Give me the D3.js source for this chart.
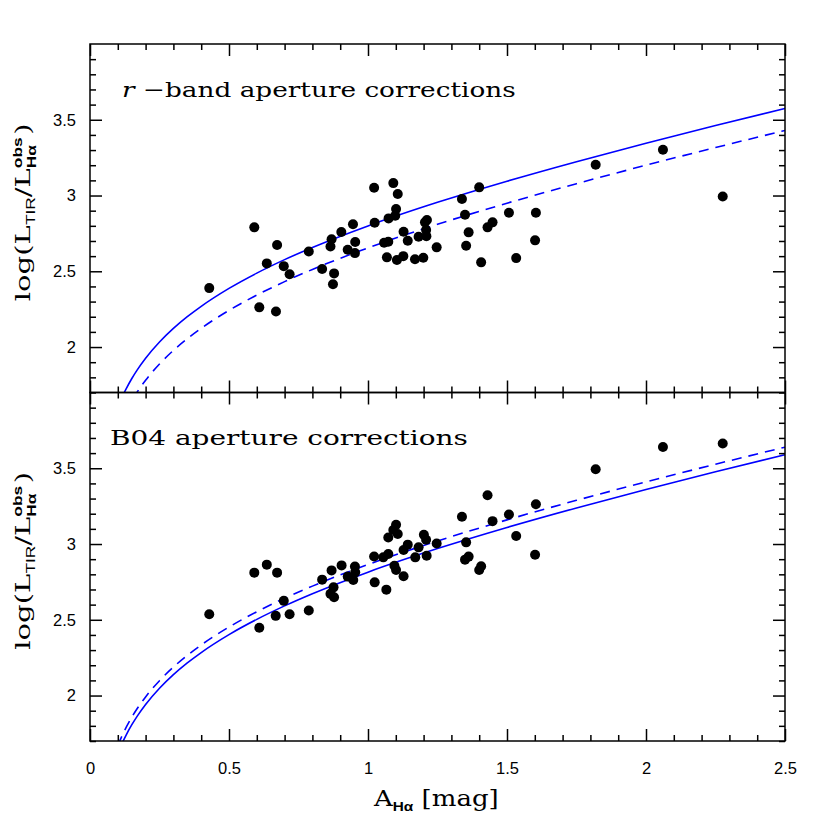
<!DOCTYPE html>
<html><head><meta charset="utf-8">
<script src="https://cdn.jsdelivr.net/npm/d3@7"></script>
<style>body{margin:0;background:#fff}</style>
</head><body>
<svg id="c" width="830" height="830"></svg>
<script>
// ---------- data ----------
const xMajorTicks = [0, 0.5, 1, 1.5, 2, 2.5];
const yMajorTicks = [2, 2.5, 3, 3.5];

// r-band aperture corrections (top panel)
const topA = [0.429,0.591,0.609,0.636,0.673,0.669,0.697,0.718,0.787,0.835,0.878,0.874,0.865,0.869,0.904,0.946,0.927,0.954,0.953,
  1.022,1.091,1.107,1.101,1.024,1.074,1.098,1.205,1.212,1.128,1.143,1.058,1.073,1.182,1.21,1.209,1.247,1.068,1.104,1.127,1.169,1.199,
  1.338,1.40,1.349,1.362,1.353,1.430,1.448,1.407,1.507,1.533,1.604,1.601,1.819,2.061,2.276];
const topLog = [2.389,2.79,2.262,2.552,2.673,2.235,2.534,2.48,2.631,2.515,2.486,2.415,2.664,2.711,2.759,2.81,2.642,2.693,2.62,
  3.051,3.082,3.01,2.911,2.82,2.849,2.866,2.823,2.838,2.761,2.701,2.688,2.695,2.728,2.732,2.772,2.658,2.592,2.574,2.60,2.58,2.589,
  2.977,3.054,2.873,2.757,2.668,2.79,2.823,2.559,2.886,2.587,2.886,2.704,3.203,3.302,2.994];

// B04 aperture corrections (bottom panel)
const botA = [0.429,0.591,0.636,0.673,0.609,0.697,0.668,0.718,0.787,0.835,0.869,0.905,0.876,0.865,0.878,0.953,0.927,0.947,0.954,
  1.022,1.055,1.073,1.101,1.091,1.107,1.073,1.024,1.066,1.095,1.101,1.128,1.128,1.143,1.170,1.182,1.201,1.209,1.211,1.247,
  1.338,1.353,1.349,1.362,1.40,1.407,1.430,1.448,1.507,1.533,1.604,1.601,1.819,2.061,2.276];
const botLog = [2.537,2.811,2.864,2.811,2.447,2.625,2.526,2.537,2.561,2.765,2.826,2.859,2.714,2.671,2.649,2.851,2.785,2.763,2.813,
  2.918,2.912,2.934,3.127,3.092,3.066,3.043,2.747,2.699,2.857,2.829,2.787,2.961,2.996,2.912,2.978,3.061,3.028,2.923,3.004,
  3.18,3.011,2.897,2.917,2.829,2.853,3.322,3.151,3.195,3.053,3.263,2.929,3.493,3.64,3.664];

// model curves
const curveA = [0.1,0.11,0.12,0.13,0.15,0.17,0.2,0.25,0.3,0.35,0.4,0.5,0.6,0.7,0.8,1.0,1.25,1.5,1.75,2.0,2.25,2.5];
const topSolid  = [1.6045,1.6478,1.6878,1.7245,1.7909,1.8492,1.926,2.0331,2.1228,2.2002,2.2688,2.3871,2.4879,2.5769,2.6571,2.7995,2.9549,3.0944,3.2233,3.345,3.4616,3.5742];
const topDashed = [1.4595,1.5028,1.5428,1.5795,1.6459,1.7042,1.781,1.8881,1.9778,2.0552,2.1238,2.2421,2.3429,2.4319,2.5121,2.6545,2.8099,2.9494,3.0783,3.2,3.3166,3.4292];
const botSolid  = [1.6195,1.6628,1.7028,1.7395,1.8059,1.8642,1.941,2.0481,2.1378,2.2152,2.2838,2.4021,2.5029,2.5919,2.6721,2.8145,2.9699,3.1094,3.2383,3.36,3.4766,3.5892];
const botDashed = [1.6695,1.7128,1.7528,1.7895,1.8559,1.9142,1.991,2.0981,2.1878,2.2652,2.3338,2.4521,2.5529,2.6419,2.7221,2.8645,3.0199,3.1594,3.2883,3.41,3.5266,3.6392];

// ---------- drawing ----------
const serif = "'DejaVu Serif', serif";
const sans = "'Liberation Sans', Arial, sans-serif";
const svg = d3.select("#c");
const X0 = 90, X1 = 785;
const x = d3.scaleLinear().domain([0, 2.5]).range([X0, X1]);

const panels = [
  {A: topA, L: topLog, solid: topSolid, dashed: topDashed, y0: 44, y1: 392.5, showX: false},
  {A: botA, L: botLog, solid: botSolid, dashed: botDashed, y0: 392.5, y1: 741, showX: true}
];

const isMajor = v => Math.abs(v * 2 - Math.round(v * 2)) < 1e-6;
const xMinor = d3.range(1, 25).map(i => i / 10).filter(v => !isMajor(v));
const yMinor = d3.range(17, 41).map(i => i / 10).filter(v => !isMajor(v));

function styleAxis(g) {
  g.select(".domain").remove();
  g.selectAll(".tick line").attr("stroke", "#000").attr("stroke-width", 1.5);
  g.selectAll(".tick text").attr("font-family", sans).attr("font-size", 16.5).attr("fill", "#000");
}

panels.forEach((p, pi) => {
  const y = d3.scaleLinear().domain([1.7, 4.0]).range([p.y1, p.y0]);
  const g = svg.append("g");
  const clipId = "clip" + pi;
  svg.append("clipPath").attr("id", clipId).append("rect")
    .attr("x", X0).attr("y", p.y0).attr("width", X1 - X0).attr("height", p.y1 - p.y0);

  // curves
  const line = d3.line().x((d, i) => x(curveA[i])).y(d => y(d)).curve(d3.curveMonotoneX);
  g.append("path").datum(p.solid).attr("d", line).attr("clip-path", `url(#${clipId})`)
    .attr("fill", "none").attr("stroke", "#0000ff").attr("stroke-width", 1.6);
  g.append("path").datum(p.dashed).attr("d", line).attr("clip-path", `url(#${clipId})`)
    .attr("fill", "none").attr("stroke", "#0000ff").attr("stroke-width", 1.6)
    .attr("stroke-dasharray", "10,7");

  // points
  g.selectAll("circle.pt").data(p.A).join("circle").attr("class", "pt")
    .attr("cx", d => x(d)).attr("cy", (d, i) => y(p.L[i])).attr("r", 5).attr("fill", "#000");

  // axes: majors and minors on all four sides, inward
  const ax = [
    [d3.axisBottom, `translate(0,${p.y1})`, x, xMajorTicks, xMinor, p.showX],
    [d3.axisTop, `translate(0,${p.y0})`, x, xMajorTicks, xMinor, false],
    [d3.axisLeft, `translate(${X0},0)`, y, yMajorTicks, yMinor, true],
    [d3.axisRight, `translate(${X1},0)`, y, yMajorTicks, yMinor, false]
  ];
  ax.forEach(([fn, tr, sc, maj, mnr, lab]) => {
    const isX = (fn === d3.axisBottom || fn === d3.axisTop);
    g.append("g").attr("transform", tr)
      .call(fn(sc).tickValues(maj).tickSize(-12).tickPadding(isX ? 21 : 14)
        .tickFormat(lab ? d3.format("") : () => ""))
      .call(styleAxis);
    g.append("g").attr("transform", tr)
      .call(fn(sc).tickValues(mnr).tickSize(-6).tickFormat(() => ""))
      .call(styleAxis);
  });

  // frame
  g.append("rect").attr("x", X0).attr("y", p.y0).attr("width", X1 - X0).attr("height", p.y1 - p.y0)
    .attr("fill", "none").attr("stroke", "#000").attr("stroke-width", 1.5);

  // y label
  const cy = (p.y0 + p.y1) / 2 - 6;
  const t = g.append("text").attr("text-anchor", "middle").attr("font-family", serif)
    .attr("font-size", 21).attr("fill", "#000");
  t.append("tspan").text("log(L");
  t.append("tspan").attr("font-family", sans).attr("font-size", 12.5).attr("dy", 5).text("TIR");
  t.append("tspan").attr("dy", -5).text("/L");
  const sup = t.append("tspan").attr("font-family", sans).attr("font-size", 12.5).attr("font-weight", "bold").attr("dy", -8).text("obs");
  const sub = t.append("tspan").attr("font-family", sans).attr("font-size", 12.5).attr("font-weight", "bold").attr("dy", 14).text("Hα");
  const close = t.append("tspan").attr("dy", -6).text(")");
  const wSup = sup.node().getComputedTextLength(), wSub = sub.node().getComputedTextLength();
  sub.attr("dx", -wSup);
  close.attr("dx", Math.max(0, wSup - wSub) + 2);
  const wl = t.node().getBBox().width;
  const sxl = 178 / wl;
  t.attr("transform", `translate(30,${cy}) rotate(-90) scale(${sxl},1)`);
});

// titles
function fitTitle(build, xpos, ypos, target, fs) {
  const t = svg.append("text").attr("font-family", serif).attr("font-size", fs || 20).attr("fill", "#000");
  build(t);
  const w = t.node().getBBox().width;
  t.attr("transform", `translate(${xpos},${ypos}) scale(${target / w},1)`);
}
fitTitle(t => {
  t.append("tspan").attr("font-style", "italic").text("r");
  t.append("tspan").text(" −band aperture corrections");
}, 122, 97, 394, 21);
fitTitle(t => { t.text("B04 aperture corrections"); }, 110, 445, 358, 21);

// x label
fitTitle(t => {
  t.append("tspan").text("A");
  t.append("tspan").attr("font-family", sans).attr("font-size", 13).attr("font-weight", "bold").attr("dy", 5).text("Hα");
  t.append("tspan").attr("dy", -5).text(" [mag]");
}, 374, 806, 126, 22);
</script>
</body></html>
